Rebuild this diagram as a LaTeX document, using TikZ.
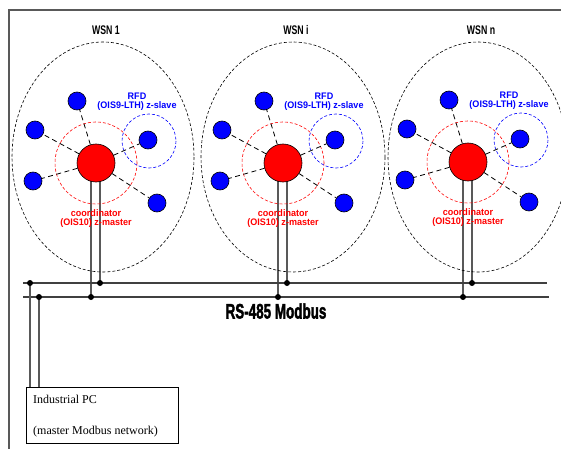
\documentclass[tikz,border=0pt]{standalone}
\usepackage{fontspec}
\usepackage{graphicx}
\setmainfont{Liberation Serif}
\setsansfont{Liberation Sans}
\newfontfamily\rsfont[FakeBold=2.5]{Liberation Sans}
\usetikzlibrary{backgrounds}
\tikzset{
  bluenode/.style={circle, draw=black, fill=blue, minimum size=18pt, inner sep=0pt, line width=0.6pt},
  coordnode/.style={circle, draw=black, fill=red, minimum size=38pt, inner sep=0pt, line width=0.6pt},
  link/.style={draw=black, dash pattern=on 5pt off 3.5pt, line width=0.8pt},
  zone/.style={draw=black, dash pattern=on 3pt off 2pt, line width=0.6pt},
  redzone/.style={draw=red, dash pattern=on 3pt off 2pt, line width=0.6pt},
  bluezone/.style={draw=blue, dash pattern=on 3pt off 2pt, line width=0.6pt},
  bus/.style={draw=black!75, line width=1.1pt},
  drop/.style={draw=black!65, line width=1.1pt},
  frameline/.style={draw=black!65, line width=1.3pt},
  dot/.style={fill=black},
  wsnlabel/.style={font=\sffamily\bfseries\fontsize{12.5}{13}\selectfont, inner sep=0pt},
  bluelabel/.style={text=blue, font=\sffamily\bfseries\fontsize{9.5}{10}\selectfont, inner sep=0pt},
  redlabel/.style={text=red, font=\sffamily\bfseries\fontsize{9.5}{10}\selectfont, inner sep=0pt},
  pcbox/.style={draw=black, line width=0.8pt, minimum width=152pt, minimum height=56pt, inner sep=0pt, anchor=north west},
  pctext/.style={font=\fontsize{12}{13}\selectfont, inner sep=0pt, anchor=west},
}
\begin{document}
\begin{tikzpicture}[x=1pt,y=-1pt]
\useasboundingbox (0,0) rectangle (561,449);
% frame
\coordinate (fr) at (561,10);
\coordinate (fc) at (9,10);
\coordinate (fb) at (9,449);
\draw[frameline] (fr) -- (fc) -- (fb);
% bus
\coordinate (ul) at (23,283);
\coordinate (ur) at (547,283);
\coordinate (ll) at (23,297);
\coordinate (lr) at (549,297);
\draw[bus] (ul) -- (ur);
\draw[bus] (ll) -- (lr);
\node[inner sep=0pt] (rs) at (276,311) {\scalebox{0.64}[1]{\rsfont\bfseries\fontsize{21}{22}\selectfont RS-485 Modbus}};
% WSNs
\foreach \k/\cx/\cy/\ex/\erx/\lab in {1/96/163/103/91/WSN 1, i/283/163/293/92/WSN i, n/468/162/478/90/WSN n}{
  \draw[zone] (\ex,157) ellipse[x radius=\erx, y radius=115];
  \node[wsnlabel] (w\k) at (\ex+3,30) {\scalebox{0.7}[1]{\lab}};
  \draw[redzone] (\cx,\cy) circle[radius=41];
  \draw[bluezone] (\cx+53,\cy-22) circle[radius=27];
  \node[coordnode] (c\k) at (\cx,\cy) {};
  \node[bluenode] (a\k) at (\cx-19,\cy-62) {};
  \node[bluenode] (b\k) at (\cx-61,\cy-33) {};
  \node[bluenode] (d\k) at (\cx-63,\cy+18) {};
  \node[bluenode] (e\k) at (\cx+52,\cy-23) {};
  \node[bluenode] (f\k) at (\cx+61,\cy+40) {};
  \draw[link] (c\k) -- (a\k);
  \draw[link] (c\k) -- (b\k);
  \draw[link] (c\k) -- (d\k);
  \draw[link] (c\k) -- (e\k);
  \draw[link] (c\k) -- (f\k);
  \node[bluelabel] (r\k) at (\cx+41,\cy-67) {\scalebox{0.95}[1]{RFD}};
  \node[bluelabel] (s\k) at (\cx+41,\cy-57) {\scalebox{0.95}[1]{(OIS9-LTH) z-slave}};
  \node[redlabel] (m\k) at (\cx,\cy+50) {\scalebox{0.95}[1]{coordinator}};
  \node[redlabel] (q\k) at (\cx,\cy+60) {\scalebox{0.95}[1]{(OIS10) z-master}};
  \coordinate (up\k) at (\cx+4,283);
  \coordinate (lo\k) at (\cx-5,297);
  \begin{scope}[on background layer]
    \draw[drop] (up\k) -- (up\k |- c\k);
    \draw[drop] (lo\k) -- (lo\k |- c\k);
  \end{scope}
  \fill[dot] (up\k) circle[radius=3];
  \fill[dot] (lo\k) circle[radius=3];
}
% industrial PC
\node[pcbox] (pc) at (26,387) {};
\node[pctext] (pc1) at (33,399) {Industrial PC};
\node[pctext] (pc2) at (33,432) {(master Modbus network)};
\coordinate (pu) at (30,283);
\coordinate (pl) at (39,297);
\draw[drop] (pu) -- (pu |- pc.north);
\draw[drop] (pl) -- (pl |- pc.north);
\fill[dot] (pu) circle[radius=3];
\fill[dot] (pl) circle[radius=3];
\end{tikzpicture}
\end{document}
